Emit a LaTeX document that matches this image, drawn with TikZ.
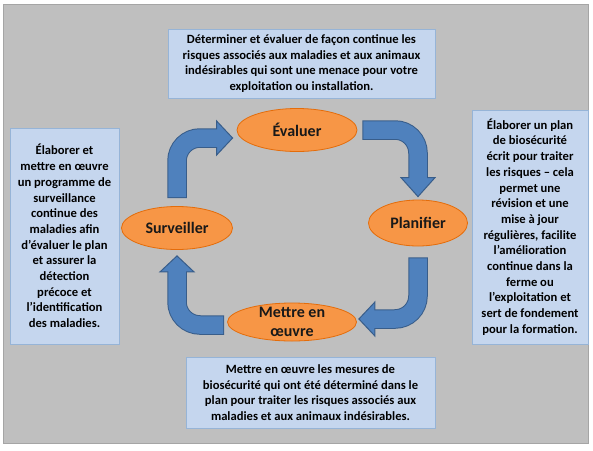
\documentclass[tikz,border=0pt]{standalone}
\usepackage{fontspec}
\setmainfont{Carlito}
\usepackage{xcolor}
\usetikzlibrary{shapes.geometric, calc}
\definecolor{panelgray}{RGB}{191,191,191}
\definecolor{paneledge}{RGB}{165,165,165}
\definecolor{boxbg}{RGB}{197,214,238}
\definecolor{boxedge}{RGB}{150,180,215}
\definecolor{phaseorange}{RGB}{247,150,70}
\definecolor{phaseedge}{RGB}{228,108,10}
\definecolor{arrowblue}{RGB}{79,129,189}
\definecolor{arrowedge}{RGB}{56,93,138}

\begin{document}
\begin{tikzpicture}[x=1pt, y=-1pt,
    infobox/.style={
      rectangle, draw=boxedge, fill=boxbg, line width=0.8pt, inner sep=0pt,
      align=center, font=\fontsize{12.6}{15.7}\selectfont\bfseries
    },
    phase/.style={ellipse, draw=phaseedge, fill=phaseorange, line width=0.8pt, inner sep=0pt},
    phasetext/.style={align=center, font=\fontsize{16}{19.5}\selectfont\bfseries, text=black!90},
    shaftedge/.style={line width=19.5pt, arrowedge, rounded corners=23pt},
    shaftfill/.style={line width=17.5pt, arrowblue, rounded corners=23pt, shorten <=1pt, shorten >=-2pt},
    head/.style={fill=arrowblue, draw=arrowedge, line width=1pt, line join=miter}
]
  \useasboundingbox (0,0) rectangle (593,450);
  \draw[fill=panelgray, draw=paneledge, line width=1pt] (3,4) rectangle (588,443);

  % text boxes
  \node[infobox, minimum width=267pt, minimum height=69pt] (evalbox) at (301.5,63.5)
    {Déterminer et évaluer de façon continue les\\risques associés aux maladies et aux animaux\\indésirables qui sont une menace pour votre\\exploitation ou installation.};
  \node[infobox, minimum width=109pt, minimum height=216pt] (survbox) at (64.5,236)
    {Élaborer et\\mettre en œuvre\\un programme de\\surveillance\\continue des\\maladies afin\\d’évaluer le plan\\et assurer la\\détection\\précoce et\\l’identification\\des maladies.};
  \node[infobox, minimum width=116pt, minimum height=234pt] (planbox) at (530,227)
    {Élaborer un plan\\de biosécurité\\écrit pour traiter\\les risques – cela\\permet une\\révision et une\\mise à jour\\régulières, facilite\\l’amélioration\\continue dans la\\ferme ou\\l’exploitation et\\sert de fondement\\pour la formation.};
  \node[infobox, minimum width=249pt, minimum height=71pt] (mettrebox) at (310.5,392.5)
    {Mettre en œuvre les mesures de\\biosécurité qui ont été déterminé dans le\\plan pour traiter les risques associés aux\\maladies et aux animaux indésirables.};

  % cycle phases
  \node[phase, minimum width=120pt, minimum height=43pt, label={[phasetext]center:Évaluer}] (evaluer) at (297,130) {};
  \node[phase, minimum width=99pt, minimum height=46pt, label={[phasetext]center:Planifier}] (planifier) at (418,223) {};
  \node[phase, minimum width=129pt, minimum height=38pt, label={[phasetext]center:{Mettre en\\œuvre}}] (mettre) at (292,322) {};
  \node[phase, minimum width=111pt, minimum height=43pt, label={[phasetext]center:Surveiller}] (surveiller) at (177,228) {};

  % bent arrows: start, head base, tip
  \coordinate (s1) at ([xshift=5pt]evaluer.east);
  \coordinate (b1) at ([yshift=22pt]planifier.north);
  \coordinate (t1) at ([yshift=3pt]planifier.north);
  \coordinate (s2) at ([yshift=-11pt]planifier.south);
  \coordinate (t2) at ([xshift=2pt, yshift=3pt]mettre.east);
  \coordinate (b2) at ([xshift=16pt]t2);
  \coordinate (s3) at ([xshift=-3pt, yshift=-3pt]mettre.west);
  \coordinate (t3) at ([yshift=-6pt]surveiller.south);
  \coordinate (b3) at ([yshift=-22pt]surveiller.south);
  \coordinate (s4) at ([yshift=8pt]surveiller.north);
  \coordinate (t4) at ([xshift=-4pt, yshift=-8pt]evaluer.west);
  \coordinate (b4) at ([xshift=-16pt]t4);
  \coordinate (c1) at (s1 -| b1);
  \coordinate (c2) at (s2 |- b2);
  \coordinate (c3) at (s3 -| b3);
  \coordinate (c4) at (s4 |- b4);

  \foreach \i in {1,...,4} {
    \draw[shaftedge] (s\i) -- (c\i) -- (b\i);
    \filldraw[head] (t\i) -- ($(b\i)!17pt!90:(t\i)$) -- ($(b\i)!17pt!-90:(t\i)$) -- cycle;
    \draw[shaftfill] (s\i) -- (c\i) -- (b\i);
  }
\end{tikzpicture}
\end{document}
